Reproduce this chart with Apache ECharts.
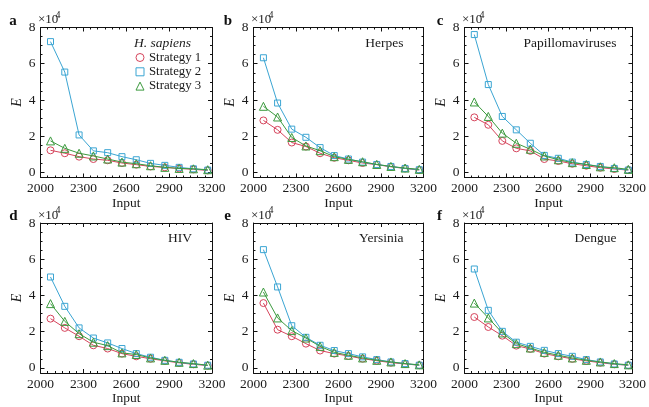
<!DOCTYPE html>
<html>
<head>
<meta charset="utf-8">
<script src="https://cdn.jsdelivr.net/npm/echarts@6.0.0/dist/echarts.min.js"></script>
<style>
html,body{margin:0;padding:0;background:#fff;}
#chart{width:649px;height:407px;}
</style>
</head>
<body>
<div id="chart"></div>
<script>
// ---- data (E in units of 10^4) ----
const inputs = [2070, 2170, 2270, 2370, 2470, 2570, 2670, 2770, 2870, 2970, 3070, 3170];
const panelLetters = ['a', 'b', 'c', 'd', 'e', 'f'];
const panelTitles = ['H. sapiens', 'Herpes', 'Papillomaviruses', 'HIV', 'Yersinia', 'Dengue'];
const seriesNames = ['Strategy 1', 'Strategy 2', 'Strategy 3'];
const xTickInterval = 300;
const yTickLabels = [0, 2, 4, 6, 8];
const yMinorTicks = [0.5, 1, 1.5, 2.5, 3, 3.5, 4.5, 5, 5.5, 6.5, 7, 7.5];

const sapiensS1 = [1.22, 1.06, 0.87, 0.74, 0.67, 0.52, 0.43, 0.33, 0.28, 0.22, 0.17, 0.11];
const sapiensS2 = [7.22, 5.54, 2.07, 1.19, 1.09, 0.87, 0.70, 0.50, 0.39, 0.28, 0.20, 0.13];
const sapiensS3 = [1.74, 1.33, 1.06, 0.91, 0.74, 0.57, 0.48, 0.37, 0.28, 0.22, 0.20, 0.15];

const herpesS1 = [2.87, 2.35, 1.65, 1.43, 1.06, 0.81, 0.67, 0.52, 0.43, 0.31, 0.22, 0.13];
const herpesS2 = [6.33, 3.83, 2.39, 1.94, 1.37, 0.93, 0.74, 0.57, 0.44, 0.33, 0.22, 0.15];
const herpesS3 = [3.65, 3.06, 1.93, 1.46, 1.20, 0.87, 0.72, 0.59, 0.44, 0.33, 0.24, 0.17];

const papillomaS1 = [3.04, 2.63, 1.74, 1.33, 1.19, 0.74, 0.63, 0.48, 0.37, 0.26, 0.19, 0.13];
const papillomaS2 = [7.61, 4.85, 3.09, 2.35, 1.61, 0.94, 0.78, 0.57, 0.44, 0.33, 0.22, 0.13];
const papillomaS3 = [3.89, 3.09, 2.17, 1.61, 1.28, 0.91, 0.70, 0.54, 0.44, 0.31, 0.26, 0.17];

const hivS1 = [2.72, 2.21, 1.75, 1.25, 1.07, 0.79, 0.64, 0.51, 0.39, 0.28, 0.20, 0.13];
const hivS2 = [5.02, 3.40, 2.21, 1.65, 1.38, 1.07, 0.79, 0.59, 0.42, 0.31, 0.22, 0.15];
const hivS3 = [3.55, 2.57, 1.89, 1.42, 1.23, 0.83, 0.74, 0.55, 0.42, 0.31, 0.24, 0.15];

const yersiniaS1 = [3.58, 2.11, 1.75, 1.34, 0.96, 0.79, 0.66, 0.51, 0.40, 0.29, 0.22, 0.15];
const yersiniaS2 = [6.53, 4.47, 2.33, 1.69, 1.25, 0.96, 0.79, 0.61, 0.46, 0.33, 0.24, 0.15];
const yersiniaS3 = [4.19, 2.76, 2.06, 1.65, 1.19, 0.86, 0.70, 0.55, 0.42, 0.33, 0.24, 0.17];

const dengueS1 = [2.81, 2.26, 1.78, 1.23, 1.05, 0.79, 0.64, 0.50, 0.39, 0.29, 0.20, 0.15];
const dengueS2 = [5.46, 3.18, 2.02, 1.42, 1.19, 0.97, 0.79, 0.64, 0.46, 0.33, 0.22, 0.15];
const dengueS3 = [3.58, 2.76, 1.93, 1.34, 1.10, 0.86, 0.70, 0.55, 0.42, 0.33, 0.24, 0.17];

const panelData = [
  [sapiensS1, sapiensS2, sapiensS3],
  [herpesS1, herpesS2, herpesS3],
  [papillomaS1, papillomaS2, papillomaS3],
  [hivS1, hivS2, hivS3],
  [yersiniaS1, yersiniaS2, yersiniaS3],
  [dengueS1, dengueS2, dengueS3]
];

// ---- styles / layout ----
const FONT = '"Liberation Serif", "Times New Roman", Times, serif';
const colors = ['#d6455c', '#3ba5d3', '#3c9a3e'];
const symbols = ['circle', 'rect', 'triangle'];
const symbolSizes = [7, 6, 8];
const cols = [{left: 40.5, width: 171.5}, {left: 253.5, width: 170}, {left: 464.5, width: 172}];
const rows = [{top: 27.5, height: 150}, {top: 223, height: 150}];
const lineCol = '#111';
const txtCol = '#1a1a1a';

const grids = [], xAxes = [], yAxes = [], series = [], graphics = [];

for (let i = 0; i < 6; i++) {
  const c = cols[i % 3], r = rows[Math.floor(i / 3)];
  grids.push({left: c.left, top: r.top, width: c.width, height: r.height});
  const xBase = {
    gridIndex: i, type: 'value', min: 2000, max: 3200, interval: xTickInterval,
    axisLine: {show: true, onZero: false, lineStyle: {color: lineCol, width: 1}},
    axisTick: {show: true, inside: true, length: 4, lineStyle: {color: lineCol, width: 1}},
    minorTick: {show: true, splitNumber: 6, length: 2, lineStyle: {color: lineCol, width: 1}},
    splitLine: {show: false}, minorSplitLine: {show: false}
  };
  xAxes.push(Object.assign({}, xBase, {
    position: 'bottom',
    axisLabel: {show: true, margin: 4, fontFamily: FONT, fontSize: 13.5, color: txtCol,
      showMinLabel: true, showMaxLabel: true, hideOverlap: false,
      formatter: v => String(Math.round(v))},
    name: 'Input', nameLocation: 'middle', nameGap: 18,
    nameTextStyle: {fontFamily: FONT, fontSize: 13.5, color: txtCol}
  }));
  xAxes.push(Object.assign({}, xBase, {position: 'top', axisLabel: {show: false}}));

  const yBase = {
    gridIndex: i, type: 'value', min: -0.28, max: 8,
    splitLine: {show: false}
  };
  const firstY = yAxes.length;
  yAxes.push(Object.assign({}, yBase, {
    position: 'left',
    axisLine: {show: true, onZero: false, lineStyle: {color: lineCol, width: 1}},
    axisTick: {show: true, inside: true, length: 4, customValues: yTickLabels, lineStyle: {color: lineCol, width: 1}},
    axisLabel: {show: true, customValues: yTickLabels, margin: 5, fontFamily: FONT, fontSize: 13.5, color: txtCol},
    name: 'E', nameLocation: 'middle', nameGap: 16,
    nameTextStyle: {fontFamily: FONT, fontSize: 14, fontStyle: 'italic', color: txtCol}
  }));
  yAxes.push(Object.assign({}, yBase, {
    position: 'left', axisLine: {show: false},
    axisTick: {show: true, inside: true, length: 2, customValues: yMinorTicks, lineStyle: {color: lineCol, width: 1}},
    axisLabel: {show: false}
  }));
  yAxes.push(Object.assign({}, yBase, {
    position: 'right',
    axisLine: {show: true, onZero: false, lineStyle: {color: lineCol, width: 1}},
    axisTick: {show: true, inside: true, length: 4, customValues: yTickLabels, lineStyle: {color: lineCol, width: 1}},
    axisLabel: {show: false}
  }));
  yAxes.push(Object.assign({}, yBase, {
    position: 'right', axisLine: {show: false},
    axisTick: {show: true, inside: true, length: 2, customValues: yMinorTicks, lineStyle: {color: lineCol, width: 1}},
    axisLabel: {show: false}
  }));

  const order = [0, 2, 1];
  order.forEach(s => {
    series.push({
      type: 'line', name: seriesNames[s],
      xAxisIndex: i * 2, yAxisIndex: firstY,
      data: inputs.map((x, k) => [x, panelData[i][s][k]]),
      symbol: symbols[s], symbolSize: symbolSizes[s], showAllSymbol: true,
      lineStyle: {color: colors[s], width: 1},
      itemStyle: {color: 'rgba(255,255,255,0)', borderColor: colors[s], borderWidth: 1},
      emphasis: {disabled: true}, z: 2 + s
    });
  });

  const letterPos = [[13, 21.5], [228, 21.5], [440, 21.5], [13.5, 216.5], [227.5, 216.5], [439.5, 216.5]][i];
  graphics.push({type: 'text', x: letterPos[0], y: letterPos[1],
    style: {text: panelLetters[i], font: 'bold 15px ' + FONT, fill: '#111', textAlign: 'center', textVerticalAlign: 'middle'}});
  graphics.push({type: 'text', x: c.left - 2.5, y: r.top - 7.5,
    style: {text: '×10', font: '13px ' + FONT, fill: txtCol, textAlign: 'left', textVerticalAlign: 'middle'}});
  graphics.push({type: 'text', x: c.left + 15, y: r.top - 12.5,
    style: {text: '4', font: '10px ' + FONT, fill: txtCol, textAlign: 'left', textVerticalAlign: 'middle'}});
  if (i === 0) {
    graphics.push({type: 'text', x: 162.5, y: 43.3,
      style: {text: panelTitles[i], font: 'italic 13.5px ' + FONT, fill: txtCol, textAlign: 'center', textVerticalAlign: 'middle'}});
  } else {
    graphics.push({type: 'text', x: c.left + c.width - 20, y: r.top + 15.5,
      style: {text: panelTitles[i], font: '13.5px ' + FONT, fill: txtCol, textAlign: 'right', textVerticalAlign: 'middle'}});
  }
}

const chart = echarts.init(document.getElementById('chart'), null, {renderer: 'canvas'});
chart.setOption({
  animation: false,
  backgroundColor: '#fff',
  grid: grids,
  xAxis: xAxes,
  yAxis: yAxes,
  series: series,
  legend: {
    show: true, orient: 'vertical', left: 135.5, top: 50.5, padding: 0,
    itemWidth: 8, itemHeight: 8, itemGap: 0.3, itemTextGap: 4,
    selectedMode: false,
    textStyle: {fontFamily: FONT, fontSize: 12.8, color: txtCol, lineHeight: 14},
    data: seriesNames.map((n, s) => ({
      name: n, icon: symbols[s],
      itemStyle: {color: 'rgba(255,255,255,0)', borderColor: colors[s], borderWidth: 1}
    }))
  },
  graphic: graphics
});
</script>
</body>
</html>
